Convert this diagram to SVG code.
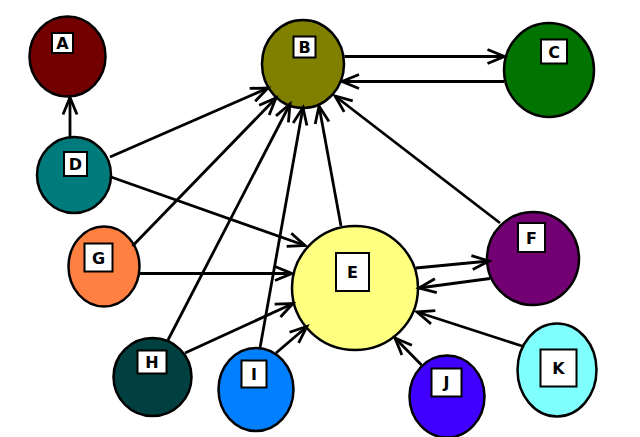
<svg xmlns="http://www.w3.org/2000/svg" width="640" height="437" viewBox="0 0 640 437">
<defs>
<style>
.n{stroke:#000;stroke-width:2.5}
.lb{fill:#fff;stroke:#000;stroke-width:2}
.t{font-family:"DejaVu Sans",sans-serif;font-weight:bold;font-size:16px;fill:#000;text-anchor:middle;dominant-baseline:central}
.e{fill:none;stroke:#000;stroke-width:2.8;marker-end:url(#ah)}
</style>
<marker id="ah" markerUnits="userSpaceOnUse" markerWidth="40" markerHeight="40" refX="0" refY="0" viewBox="-20 -20 40 40" orient="auto" overflow="visible">
<path d="M-17,-7 L0,0 L-17,7" fill="none" stroke="#000" stroke-width="2.8" stroke-linecap="butt" stroke-linejoin="miter"/>
</marker>
</defs>
<rect width="640" height="437" fill="#fff"/>
<g id="A"><ellipse class="n" cx="67.5" cy="56.5" rx="38" ry="40" fill="#730000"/><rect class="lb" x="52" y="33" width="21" height="20"/><text class="t" x="62.5" y="43.5">A</text></g>
<g id="B"><ellipse class="n" cx="303" cy="64" rx="41" ry="44" fill="#808000"/><rect class="lb" x="293.5" y="36.5" width="22" height="21"/><text class="t" x="304.5" y="47.5">B</text></g>
<g id="C"><ellipse class="n" cx="549" cy="70" rx="45" ry="47" fill="#007300"/><rect class="lb" x="541" y="39.5" width="26" height="24"/><text class="t" x="554" y="52">C</text></g>
<g id="D"><ellipse class="n" cx="74" cy="175" rx="37" ry="38" fill="#007b7b"/><rect class="lb" x="64" y="152" width="23" height="24"/><text class="t" x="75.5" y="164.5">D</text></g>
<g id="E"><ellipse class="n" cx="355" cy="288" rx="63" ry="62" fill="#ffff80"/><rect class="lb" x="336" y="253" width="33" height="38"/><text class="t" x="352.5" y="272.5">E</text></g>
<g id="F"><ellipse class="n" cx="533" cy="258.5" rx="46" ry="46.5" fill="#730073"/><rect class="lb" x="518" y="223" width="27" height="29"/><text class="t" x="531.5" y="238">F</text></g>
<g id="G"><ellipse class="n" cx="104" cy="266.5" rx="35.5" ry="40" fill="#ff8040"/><rect class="lb" x="84.5" y="243.5" width="28" height="28"/><text class="t" x="98.5" y="258">G</text></g>
<g id="H"><ellipse class="n" cx="152.5" cy="377" rx="39" ry="39" fill="#004040"/><rect class="lb" x="137.5" y="350.5" width="29" height="23"/><text class="t" x="152" y="362">H</text></g>
<g id="I"><ellipse class="n" cx="256" cy="389.5" rx="37.5" ry="41.5" fill="#0080ff"/><rect class="lb" x="241.5" y="360.5" width="25" height="27"/><text class="t" x="254" y="374">I</text></g>
<g id="J"><ellipse class="n" cx="447" cy="396.5" rx="37.5" ry="41" fill="#4000ff"/><rect class="lb" x="431.5" y="368.5" width="30" height="28"/><text class="t" x="446.5" y="382.5">J</text></g>
<g id="K"><ellipse class="n" cx="557" cy="370" rx="39.5" ry="46.5" fill="#80ffff"/><rect class="lb" x="540.5" y="349.5" width="36" height="37"/><text class="t" x="558.5" y="368">K</text></g>
<g id="connectors">
<line class="e" x1="70" y1="137" x2="70" y2="97.5"/>
<line class="e" x1="110" y1="157" x2="268" y2="88"/>
<line class="e" x1="111" y1="177" x2="305" y2="245.5"/>
<line class="e" x1="132.5" y1="246" x2="276" y2="98"/>
<line class="e" x1="139" y1="273.5" x2="292" y2="273.5"/>
<line class="e" x1="168" y1="340" x2="290" y2="104"/>
<line class="e" x1="185" y1="353" x2="293" y2="303.5"/>
<line class="e" x1="260" y1="348" x2="303" y2="107.5"/>
<line class="e" x1="276" y1="353" x2="307" y2="326.5"/>
<line class="e" x1="341" y1="226" x2="319" y2="106"/>
<line class="e" x1="500" y1="223" x2="335" y2="96"/>
<line class="e" x1="344.5" y1="56.5" x2="504.5" y2="56.5"/>
<line class="e" x1="504" y1="81.5" x2="342" y2="81.5"/>
<line class="e" x1="416" y1="268" x2="489" y2="261"/>
<line class="e" x1="490" y1="278.5" x2="419" y2="288"/>
<line class="e" x1="421.5" y1="365" x2="395" y2="338"/>
<line class="e" x1="522" y1="346" x2="417" y2="312"/>
</g>
</svg>
